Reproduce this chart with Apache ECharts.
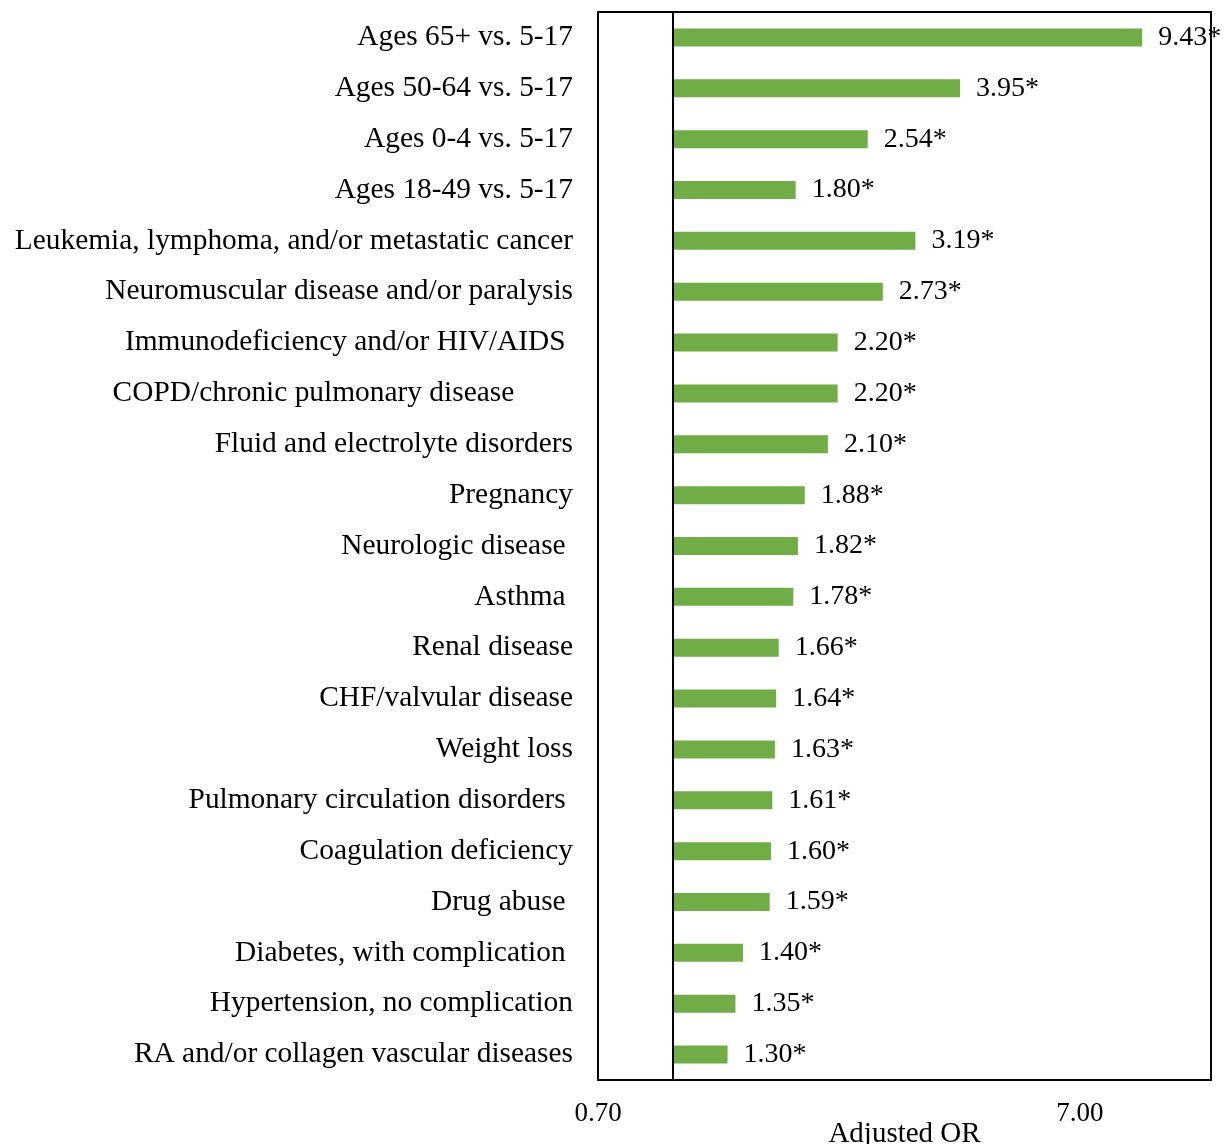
<!DOCTYPE html>
<html>
<head>
<meta charset="utf-8">
<script src="https://cdn.jsdelivr.net/npm/echarts@6/dist/echarts.min.js"></script>
<style>
html,body{margin:0;padding:0;background:#fff;}
#chart{width:1225px;height:1144px;}
</style>
</head>
<body>
<div id="chart"></div>
<script>
const categories = [
  'Ages 65+ vs. 5-17',
  'Ages 50-64 vs. 5-17',
  'Ages 0-4 vs. 5-17',
  'Ages 18-49 vs. 5-17',
  'Leukemia, lymphoma, and/or metastatic cancer',
  'Neuromuscular disease and/or paralysis',
  'Immunodeficiency and/or HIV/AIDS ',
  'COPD/chronic pulmonary disease        ',
  'Fluid and electrolyte disorders',
  'Pregnancy',
  'Neurologic disease ',
  'Asthma ',
  'Renal disease',
  'CHF/valvular disease',
  'Weight loss',
  'Pulmonary circulation disorders ',
  'Coagulation deficiency',
  'Drug abuse ',
  'Diabetes, with complication ',
  'Hypertension, no complication',
  'RA and/or collagen vascular diseases'
];
const adjustedOR = [9.43, 3.95, 2.54, 1.80, 3.19, 2.73, 2.20, 2.20, 2.10, 1.88, 1.82, 1.78, 1.66, 1.64, 1.63, 1.61, 1.60, 1.59, 1.40, 1.35, 1.30];
const significant = adjustedOR.map(() => '*');
const axisMin = 0.7;
const axisMax = 13.1;
const tickValues = [0.70, 7.00];
const tickLabels = ['0.70', '7.00'];
const referenceValue = 1;

const FONT = '"Liberation Serif", "Times New Roman", serif';
const chart = echarts.init(document.getElementById('chart'));
// label axis measured in decades above axisMin, so that its ticks (multiples of 1) fall on 0.70 and 7.00
const decadeSpan = Math.log10(axisMax / axisMin);
chart.setOption({
  animation: false,
  backgroundColor: '#fff',
  grid: {
    left: 598, right: 14, top: 12, bottom: 64,
    outerBoundsMode: 'none', containLabel: false,
    show: true, borderColor: '#000', borderWidth: 2, backgroundColor: 'transparent'
  },
  xAxis: [
    {
      type: 'log', logBase: 10, min: axisMin, max: axisMax, position: 'bottom',
      axisLine: {show: false}, axisTick: {show: false}, axisLabel: {show: false}, splitLine: {show: false}
    },
    {
      type: 'value', position: 'bottom', min: 0, max: decadeSpan,
      interval: 1,
      axisLine: {show: false}, axisTick: {show: false}, splitLine: {show: false},
      axisLabel: {
        margin: 20, color: '#000', fontFamily: FONT, fontSize: 27,
        formatter: function (v) {
          const real = axisMin * Math.pow(10, v);
          for (let i = 0; i < tickValues.length; i++) {
            if (Math.abs(real - tickValues[i]) < 0.01) return tickLabels[i];
          }
          return '';
        }
      },
      name: 'Adjusted OR', nameLocation: 'middle', nameGap: 40, nameMoveOverlap: false,
      nameTextStyle: {color: '#000', fontFamily: FONT, fontSize: 29}
    }
  ],
  yAxis: {
    type: 'category', data: categories, inverse: true,
    axisLine: {show: false}, axisTick: {show: false}, splitLine: {show: false},
    axisLabel: {margin: 25, color: '#000', fontFamily: FONT, fontSize: 29.4}
  },
  series: [{
    type: 'bar', xAxisIndex: 0,
    data: adjustedOR,
    barWidth: 18,
    itemStyle: {color: '#70AD47'},
    label: {
      show: true, position: 'right', distance: 16,
      color: '#000', fontFamily: FONT, fontSize: 28,
      formatter: p => p.value.toFixed(2) + significant[p.dataIndex]
    },
    markLine: {
      silent: true, symbol: 'none', animation: false,
      label: {show: false},
      lineStyle: {color: '#000', type: 'solid', width: 2},
      data: [{xAxis: referenceValue}]
    }
  }]
});
</script>
</body>
</html>
